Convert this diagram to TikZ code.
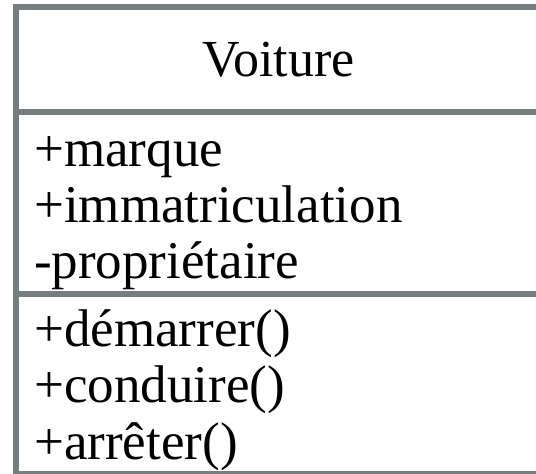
\documentclass[tikz,border=0pt]{standalone}
\usepackage{fontspec}
\setmainfont{Liberation Serif}
\definecolor{umlgray}{RGB}{118,126,128}
\begin{document}
\begin{tikzpicture}[x=1pt,y=1pt,
  rule/.style={draw=umlgray,line width=6pt},
  member/.style={anchor=base west,inner sep=0pt,font=\fontsize{53}{60}\selectfont},
  title/.style={anchor=base,inner sep=0pt,font=\fontsize{52}{60}\selectfont}]
\useasboundingbox (0,0) rectangle (536,474);
\fill[white] (0,0) rectangle (536,474);
% frame
\draw[rule,line cap=rect] (15.5,0) -- (15.5,467) -- (540,467);
\draw[rule] (15.5,362) -- (540,362);
\draw[rule] (15.5,180) -- (540,180);
\draw[draw=umlgray,line width=4pt] (15.5,0.5) -- (540,0.5);
% texts
\node[title] (name) at (278.5,397) {Voiture};
\node[member] (a1) at (34,307) {+marque};
\node[member] (a2) at (34,251) {+immatriculation};
\node[member] (a3) at (34,195) {-propriétaire};
\node[member] (m1) at (34,127) {+démarrer()};
\node[member] (m2) at (34,71) {+conduire()};
\node[member] (m3) at (34,14) {+arrêter()};
\end{tikzpicture}
\end{document}
